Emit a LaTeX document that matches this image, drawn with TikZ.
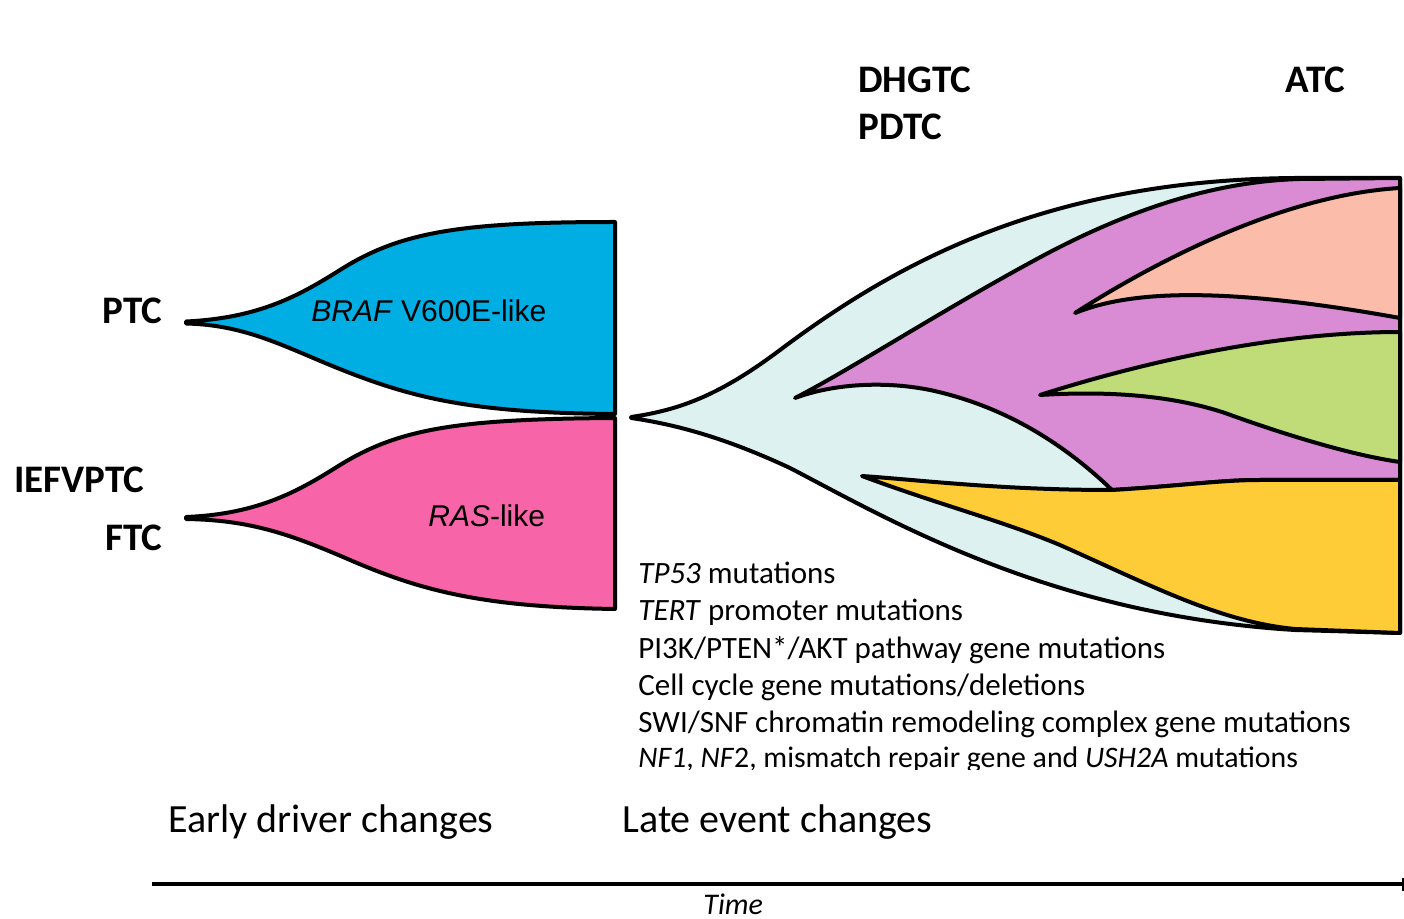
\documentclass[tikz,border=0pt]{standalone}
\usepackage{fontspec}
\setmainfont{Carlito}
\newfontfamily\arialf{Liberation Sans}
\definecolor{cblue}{RGB}{0,174,228}
\definecolor{cpink}{RGB}{248,100,168}
\definecolor{clb}{RGB}{221,242,240}
\definecolor{cpur}{RGB}{217,139,212}
\definecolor{csal}{RGB}{251,188,170}
\definecolor{cgrn}{RGB}{191,220,120}
\definecolor{cyel}{RGB}{254,204,54}
\begin{document}
\begin{tikzpicture}[x=0.5pt,y=-0.5pt,
  outl/.style={draw=black,line width=2pt,line join=round,line cap=round},
  lab/.style={anchor=base west,inner sep=0pt,font=\fontsize{19.5}{23}\selectfont\bfseries},
  inlab/.style={anchor=base west,inner sep=0pt,font=\fontsize{15}{18}\selectfont\arialf},
  lst/.style={anchor=base west,inner sep=0pt,font=\fontsize{15.5}{19}\selectfont},
  phase/.style={anchor=base west,inner sep=0pt,font=\fontsize{20}{24}\selectfont}]
\useasboundingbox (0,0) rectangle (1404,919);

% ---------- left fish plot ----------
\fill[cblue] (186,321.5) .. controls (260,318) and (300,295) .. (340,270)
  .. controls (400,232) and (460,222) .. (615,222) -- (615,414)
  .. controls (480,413) and (420,400) .. (350,373)
  .. controls (290,350) and (250,325) .. (186,323.5) -- cycle;
\draw[outl] (186,321.5) .. controls (260,318) and (300,295) .. (340,270)
  .. controls (400,232) and (460,222) .. (615,222) -- (615,414)
  .. controls (480,413) and (420,400) .. (350,373)
  .. controls (290,350) and (250,325) .. (186,323.5) -- cycle;

\fill[cpink] (186,517) .. controls (260,514) and (300,490) .. (340,465)
  .. controls (400,428) and (460,419) .. (615,418) -- (615,609)
  .. controls (480,607) and (420,590) .. (350,560)
  .. controls (290,534) and (250,520) .. (186,519) -- cycle;
\draw[outl] (186,517) .. controls (260,514) and (300,490) .. (340,465)
  .. controls (400,428) and (460,419) .. (615,418) -- (615,609)
  .. controls (480,607) and (420,590) .. (350,560)
  .. controls (290,534) and (250,520) .. (186,519) -- cycle;

\node[inlab] (braf) at (311,322) {\textit{BRAF} V600E-like};
\node[inlab] (ras) at (428,527) {\textit{RAS}-like};

% ---------- right fish plot ----------
% outer envelope (light blue)
\filldraw[outl,fill=clb] (631,417) .. controls (680,410) and (720,395) .. (780,350)
  .. controls (900,260) and (1050,180) .. (1295,178) -- (1400,178) -- (1400,633)
  -- (1295,630) .. controls (1050,615) and (890,520) .. (790,468)
  .. controls (730,440) and (680,425) .. (631,418) -- cycle;

% purple
\filldraw[outl,fill=cpur] (795,398) .. controls (850,370) and (950,305) .. (1050,252)
  .. controls (1150,200) and (1230,181) .. (1300,179) -- (1400,178) -- (1400,480)
  -- (1260,480) .. controls (1220,480) and (1180,486) .. (1112,490)
  .. controls (1060,440) and (1000,405) .. (930,390)
  .. controls (880,380) and (830,385) .. (795,398) -- cycle;

% yellow
\filldraw[outl,fill=cyel] (862,476) .. controls (920,480) and (1000,490) .. (1112,490)
  .. controls (1180,486) and (1220,480) .. (1260,480) -- (1400,480) -- (1400,633)
  -- (1295,629) .. controls (1220,622) and (1150,585) .. (1060,545)
  .. controls (1000,520) and (940,505) .. (862,476) -- cycle;

% salmon
\filldraw[outl,fill=csal] (1075,313) .. controls (1150,265) and (1280,195) .. (1400,188)
  -- (1400,318) .. controls (1200,282) and (1120,295) .. (1075,313) -- cycle;

% green
\filldraw[outl,fill=cgrn] (1040,395) .. controls (1150,360) and (1280,332) .. (1400,332)
  -- (1400,462) .. controls (1350,455) and (1280,433) .. (1225,413)
  .. controls (1180,398) and (1120,390) .. (1040,395) -- cycle;

\draw[line width=2.2pt] (1400,177) -- (1400,634);

% ---------- labels ----------
\node[lab] (dhgtc) at (858,93) {DHGTC};
\node[lab] (pdtc) at (858,140) {PDTC};
\node[lab] (atc) at (1285,93) {ATC};
\node[lab] (ptc) at (102,324) {PTC};
\node[lab] (iefvptc) at (14,493) {IEFVPTC};
\node[lab] (ftc) at (105,551) {FTC};

\node[lst] (l1) at (638,584) {\textit{TP53} mutations};
\node[lst] (l2) at (638,621) {\textit{TERT} promoter mutations};
\node[lst] (l3) at (638,659) {PI3K/PTEN*/AKT pathway gene mutations};
\node[lst] (l4) at (638,696) {Cell cycle gene mutations/deletions};
\node[lst] (l5) at (638,733) {SWI/SNF chromatin remodeling complex gene mutations};
\begin{scope}
\clip (600,740) rectangle (1404,769);
\node[anchor=base west,inner sep=0pt,font=\fontsize{14.9}{18}\selectfont] (l6) at (638,767) {\textit{NF1}, \textit{NF}2, mismatch repair gene and \textit{USH2A} mutations};
\end{scope}

\node[phase] (early) at (168,832) {Early driver changes};
\node[phase] (late) at (622,832) {Late event changes};

% ---------- time axis ----------
\coordinate (t0) at (152,884);
\coordinate (t1) at (1404,884);
\coordinate (k0) at (1403,878);
\coordinate (k1) at (1403,891);
\draw[line width=1.7pt] (t0) -- (t1);
\draw[line width=1pt] (k0) -- (k1);
\node[anchor=base west,inner sep=0pt,font=\fontsize{15}{18}\selectfont\itshape] (time) at (703,914) {Time};
\end{tikzpicture}
\end{document}
